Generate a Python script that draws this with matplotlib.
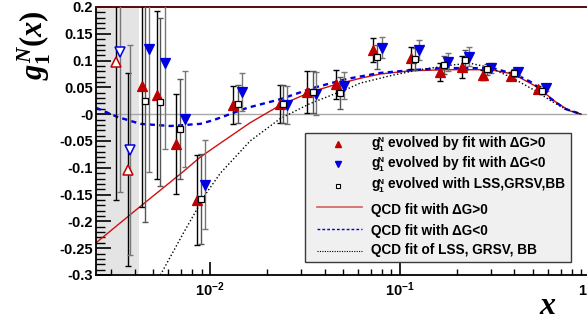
import matplotlib.pyplot as plt
from matplotlib.lines import Line2D
from matplotlib.patches import Rectangle
from matplotlib.ticker import MultipleLocator, FuncFormatter, LogLocator, NullFormatter, FixedLocator

plt.rcParams['font.family'] = 'Liberation Sans'
plt.rcParams['font.weight'] = 'bold'
plt.rcParams['mathtext.fontset'] = 'custom'
plt.rcParams['mathtext.rm'] = 'Liberation Serif:bold'
plt.rcParams['mathtext.it'] = 'Liberation Serif:bold:italic'
plt.rcParams['mathtext.bf'] = 'Liberation Sans:bold'
plt.rcParams['mathtext.sf'] = 'Liberation Sans:bold'

RED = '#c00000'
BLUE = '#0000e0'

# g1N evolved by fit with dG>0
x_pos = [0.00320, 0.00370, 0.00439, 0.00526, 0.00662, 0.00855, 0.0132, 0.0234, 0.0324,
         0.0460, 0.0721, 0.114, 0.162, 0.212, 0.273, 0.384, 0.532]
g_pos = [0.097, -0.104, 0.053, 0.036, -0.056, -0.160, 0.017, 0.019, 0.041,
         0.056, 0.120, 0.105, 0.079, 0.088, 0.073, 0.071, 0.047]
e_pos = [0.257, 0.18, 0.226, 0.157, 0.093, 0.084, 0.035, 0.035, 0.039,
         0.027, 0.022, 0.020, 0.017, 0.020, 0.010, 0.007, 0.005]

# g1N evolved by fit with dG<0
x_neg = [0.00336, 0.00379, 0.00478, 0.00580, 0.00738, 0.00941, 0.0147, 0.0254, 0.0361,
         0.0507, 0.0804, 0.126, 0.179, 0.231, 0.301, 0.418, 0.586]
g_neg = [0.116, -0.067, 0.122, 0.096, -0.009, -0.132, 0.041, 0.017, 0.038,
         0.053, 0.124, 0.120, 0.097, 0.107, 0.086, 0.079, 0.049]
e_neg = [0.261, 0.196, 0.230, 0.160, 0.090, 0.083, 0.035, 0.035, 0.040,
         0.025, 0.020, 0.018, 0.017, 0.018, 0.010, 0.007, 0.005]

# g1N evolved with LSS, GRSV, BB
x_lss = [0.00455, 0.00546, 0.00695, 0.00897, 0.0140, 0.0242, 0.0348, 0.0483,
         0.0757, 0.120, 0.170, 0.220, 0.287, 0.398, 0.559]
g_lss = [0.025, 0.023, -0.028, -0.158, 0.019, 0.019, 0.041, 0.039,
         0.107, 0.103, 0.092, 0.101, 0.084, 0.077, 0.043]
e_lss = [0.226, 0.157, 0.093, 0.084, 0.035, 0.035, 0.039, 0.030,
         0.022, 0.020, 0.017, 0.018, 0.010, 0.007, 0.005]

# QCD fit curves
cx_pos = [0.0025, 0.00428, 0.00721, 0.00886, 0.0113, 0.0162, 0.0234, 0.0336, 0.0444, 0.0616,
          0.0785, 0.113, 0.177, 0.298, 0.393, 0.526, 0.670, 0.785, 0.9]
cy_pos = [-0.240, -0.172, -0.107, -0.080, -0.054, -0.016, 0.017, 0.041, 0.054, 0.067,
          0.075, 0.081, 0.083, 0.083, 0.075, 0.051, 0.021, 0.006, 0.0]

cx_neg = [0.0025, 0.00324, 0.00428, 0.00616, 0.00886, 0.0104, 0.0157, 0.0234, 0.0348,
          0.0526, 0.0785, 0.113, 0.168, 0.309, 0.413, 0.501, 0.616, 0.739, 0.9]
cy_neg = [0.012, -0.005, -0.018, -0.022, -0.018, -0.011, 0.012, 0.028, 0.049,
          0.066, 0.077, 0.082, 0.086, 0.086, 0.073, 0.058, 0.030, 0.010, 0.0]

cx_lss = [0.00546, 0.00721, 0.00941, 0.0113, 0.0162, 0.0234, 0.0336, 0.0526, 0.0616,
          0.0919, 0.127, 0.190, 0.234, 0.298, 0.393, 0.526, 0.616, 0.739, 0.9]
cy_lss = [-0.300, -0.222, -0.150, -0.110, -0.050, -0.008, 0.020, 0.047, 0.058,
          0.073, 0.083, 0.092, 0.095, 0.087, 0.067, 0.042, 0.026, 0.010, 0.0]

band_edge = 0.0042
x_min, x_max = 0.0025, 1.0
y_min, y_max = -0.3, 0.2

W, H = 587, 320
fig = plt.figure(figsize=(W / 100, H / 100), dpi=100)
ax = fig.add_axes([96 / W, 45 / H, (590 - 96) / W, 268 / H])
ax.set_xscale('log')
ax.set_xlim(x_min, x_max)
ax.set_ylim(y_min, y_max)

ax.axvspan(x_min, band_edge, color='#e4e4e4', lw=0, zorder=0)
ax.axhline(0, color='#a8a8a8', lw=1, zorder=1)

ax.plot(cx_pos, cy_pos, color='#d01010', lw=1.0, zorder=2)
ax.plot(cx_neg, cy_neg, color=BLUE, lw=1.7, ls=(0, (2.2, 1.8)), zorder=2)
ax.plot(cx_lss, cy_lss, color='black', lw=1.0, ls=(0, (1, 1.6)), zorder=2)


def draw_points(xs, ys, es, marker, color, ecolor, ms, hollow_fc):
    ax.errorbar(xs, ys, yerr=es, fmt='none', ecolor=ecolor, elinewidth=1.0,
                capsize=2, capthick=1.0, zorder=3)
    inside = [i for i, v in enumerate(xs) if v < band_edge]
    outside = [i for i, v in enumerate(xs) if v >= band_edge]
    ax.plot([xs[i] for i in outside], [ys[i] for i in outside], ls='none', marker=marker,
            ms=ms, mfc=color if hollow_fc is None else hollow_fc,
            mec=color if hollow_fc is None else 'black', mew=0.9, zorder=4)
    ax.plot([xs[i] for i in inside], [ys[i] for i in inside], ls='none', marker=marker,
            ms=ms, mfc='white', mec=color, mew=1.1, zorder=4)


draw_points(x_pos, g_pos, e_pos, '^', RED, 'black', 6.5, None)
draw_points(x_neg, g_neg, e_neg, 'v', BLUE, '#777777', 6.5, None)
draw_points(x_lss, g_lss, e_lss, 's', 'black', '#555555', 4.5, 'white')

# frame and ticks
for side in ['left', 'bottom']:
    ax.spines[side].set_linewidth(1.3)
ax.spines['top'].set_color('#5a0a0a')
ax.spines['top'].set_linewidth(1.4)
ax.spines['right'].set_visible(False)

ax.yaxis.set_major_locator(MultipleLocator(0.05))
ax.yaxis.set_minor_locator(MultipleLocator(0.01))
ax.yaxis.set_major_formatter(FuncFormatter(lambda v, _: '-0' if abs(v) < 1e-9 else f'{v:g}'))
ax.tick_params(axis='y', which='major', direction='in', length=11, width=1.2,
               labelsize=10.5, pad=2)
ax.tick_params(axis='y', which='minor', direction='in', length=6.5, width=1.0)

ax.xaxis.set_major_locator(FixedLocator([0.01, 0.1, 1.0]))
ax.xaxis.set_major_formatter(FuncFormatter(
    lambda v, _: {0.01: r'$\mathbf{10^{-2}}$', 0.1: r'$\mathbf{10^{-1}}$',
                  1.0: r'$\mathbf{10^{0}}$'}.get(round(v, 4), '')))
ax.xaxis.set_minor_locator(LogLocator(base=10, subs=[2, 3, 4, 5, 6, 7, 8, 9], numticks=20))
ax.xaxis.set_minor_formatter(NullFormatter())
ax.tick_params(axis='x', which='major', direction='in', length=9.5, width=1.2,
               labelsize=10.5, pad=4)
ax.tick_params(axis='x', which='minor', direction='in', length=4.5, width=1.0)
ax.tick_params(top=False, right=False, which='both')

fig.text(34 / W, 1 - 45 / H, r'$g^{N}_{\mathit{1}}(x)$', rotation=90,
         ha='center', va='center', fontsize=22)
fig.text(548 / W, 1 - 306 / H, r'$x$', ha='center', va='center', fontsize=23)


# legend box, drawn in figure pixels like the ROOT TLegend
def fx(px):
    return px / W


def fy(py):
    return 1 - py / H


fig.add_artist(Rectangle((fx(305), fy(262)), fx(571) - fx(305), fy(133) - fy(262),
                         transform=fig.transFigure, facecolor='#f0f0f0',
                         edgecolor='#3a3a3a', lw=1.0, zorder=5))

# (has g1N prefix, rest of the text)
legend_labels = [
    (True, 'evolved by fit with ΔG>0'),
    (True, 'evolved by fit with ΔG<0'),
    (True, 'evolved with LSS,GRSV,BB'),
    (False, 'QCD fit with ΔG>0'),
    (False, 'QCD fit with ΔG<0'),
    (False, 'QCD fit of LSS, GRSV, BB'),
]
legend_baselines = [147, 167, 188, 214, 235, 254]
legend_symbols = [
    dict(ls='none', marker='^', ms=5, color=RED),
    dict(ls='none', marker='v', ms=5, color=BLUE),
    dict(ls='none', marker='s', ms=3.5, mfc='white', mec='black', mew=0.8),
    dict(color='#d06060', lw=1.2),
    dict(color=BLUE, lw=1.0, ls=(0, (2, 1.5))),
    dict(color='black', lw=0.8, ls=(0, (1, 1.2))),
]
symbol_offsets = [-3, -3, -2, -7, -6, -3]

for (has_g, label), base, style, off in zip(legend_labels, legend_baselines,
                                           legend_symbols, symbol_offsets):
    if style.get('ls') == 'none':
        xs = [fx(338)]
    else:
        xs = [fx(317), fx(362)]
    fig.add_artist(Line2D(xs, [fy(base + off)] * len(xs), transform=fig.transFigure,
                          zorder=6, **style))
    if has_g:
        fig.text(fx(371), fy(base), 'g', ha='left', va='baseline', fontsize=9.8, zorder=6)
        fig.text(fx(378), fy(base - 4.5), 'N', ha='left', va='baseline', fontsize=6, zorder=6)
        fig.text(fx(378.5), fy(base + 4), '1', ha='left', va='baseline', fontsize=6, zorder=6)
        fig.text(fx(388), fy(base), label, ha='left', va='baseline', fontsize=9.8, zorder=6)
    else:
        fig.text(fx(371), fy(base), label, ha='left', va='baseline', fontsize=9.8, zorder=6)

fig.savefig('out.png', dpi=100)
